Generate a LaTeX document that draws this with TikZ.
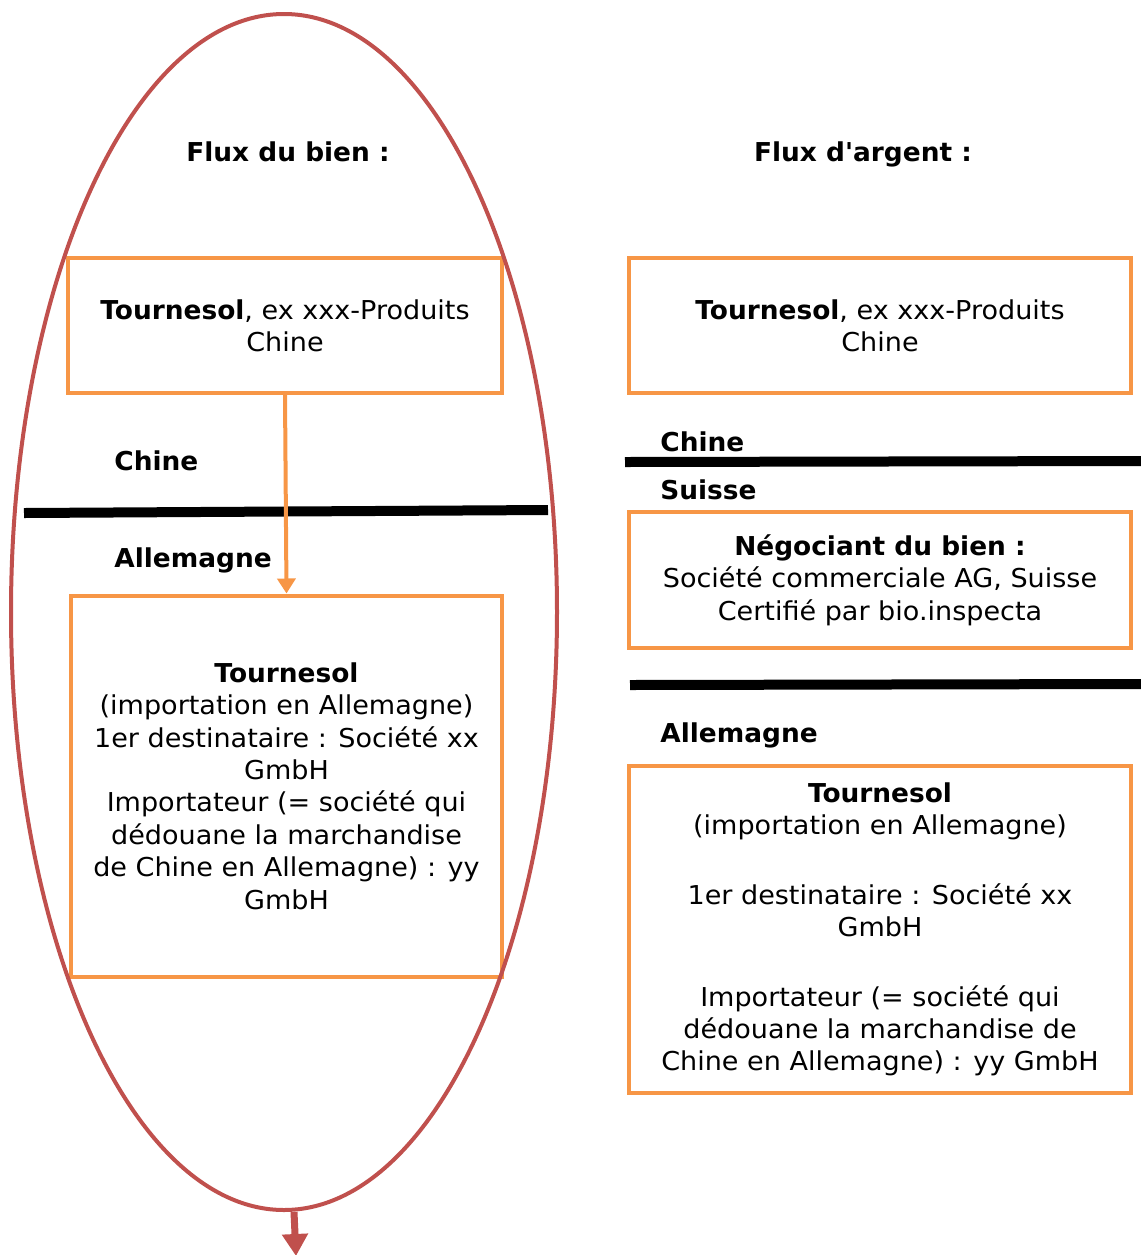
\documentclass[tikz,border=0pt]{standalone}
\usepackage{fontspec}
\setmainfont{DejaVu Sans}[FakeStretch=1.04,BoldFeatures={FakeStretch=1.015},Ligatures=TeXOff]
\usetikzlibrary{arrows.meta,shapes.geometric}
\definecolor{boxorange}{HTML}{F79646}
\definecolor{ovalred}{HTML}{C0504D}
\newcommand{\diagfont}{\fontsize{13pt}{16.2pt}\selectfont}
\tikzset{
  box/.style={draw=boxorange,line width=2pt,align=center,inner sep=0pt,font=\diagfont},
  border/.style={line width=5pt},
  country/.style={anchor=base west,font=\diagfont\bfseries,inner sep=0pt},
  title/.style={anchor=base,font=\diagfont\bfseries,inner sep=0pt}
}
\begin{document}
\begin{tikzpicture}[x=0.5pt,y=-0.5pt]
      \useasboundingbox (0,0) rectangle (1141,1255);
      \node[title] (fluxbien) at (288,161) {Flux du bien :};
      \node[title] (fluxargent) at (863,161) {Flux d'argent :};
      \draw[border] (24,513) -- (548,510);
      \draw[border] (625,462) -- (1141,461);
      \draw[border] (630,685) -- (1141,684);
      \node[country] (chineL) at (114,470) {Chine};
      \node[country] (allemagneL) at (114,567) {Allemagne};
      \node[country] (chineR) at (660,451) {Chine};
      \node[country] (suisseR) at (660,499) {Suisse};
      \node[country] (allemagneR) at (660,742) {Allemagne};
      \node[box,minimum width=217pt,minimum height=67.5pt] (srcL) at (285,325.5)
        {\textbf{Tournesol}, ex xxx-Produits\\Chine};
      \node[box,minimum width=215.5pt,minimum height=190.5pt] (dstL) at (286.5,786)
        {\textbf{Tournesol}\\(importation en Allemagne)\\1er destinataire : Société xx\\GmbH\\Importateur (= société qui\\dédouane la marchandise\\de Chine en Allemagne) : yy\\GmbH};
      \node[box,minimum width=251pt,minimum height=67.5pt] (srcR) at (880,325.5)
        {\textbf{Tournesol}, ex xxx-Produits\\Chine};
      \node[box,minimum width=251pt,minimum height=68pt] (tradeR) at (880,580)
        {\textbf{Négociant du bien :}\\Société commerciale AG, Suisse\\Certifié par bio.inspecta};
      \node[box,minimum width=251pt,minimum height=163.5pt] (dstR) at (880,929.5)
        {\textbf{Tournesol}\\(importation en Allemagne)\\[18.5pt]1er destinataire : Société xx\\GmbH\\[18.5pt]Importateur (= société qui\\dédouane la marchandise de\\Chine en Allemagne) : yy GmbH};
      \draw[boxorange,line width=2pt,-{Triangle[length=7.5pt,width=9pt]}] (srcL.south) -- (dstL.north);
      \node[draw=ovalred,line width=2pt,ellipse,inner sep=0pt,minimum width=273pt,minimum height=598pt] (oval) at (284,612) {};
      \coordinate (out) at (296,1256);
      \draw[ovalred,line width=3.5pt,-{Triangle[length=11pt,width=12.5pt]}] ([xshift=5pt]oval.south) -- (out);
    \end{tikzpicture}
\end{document}
